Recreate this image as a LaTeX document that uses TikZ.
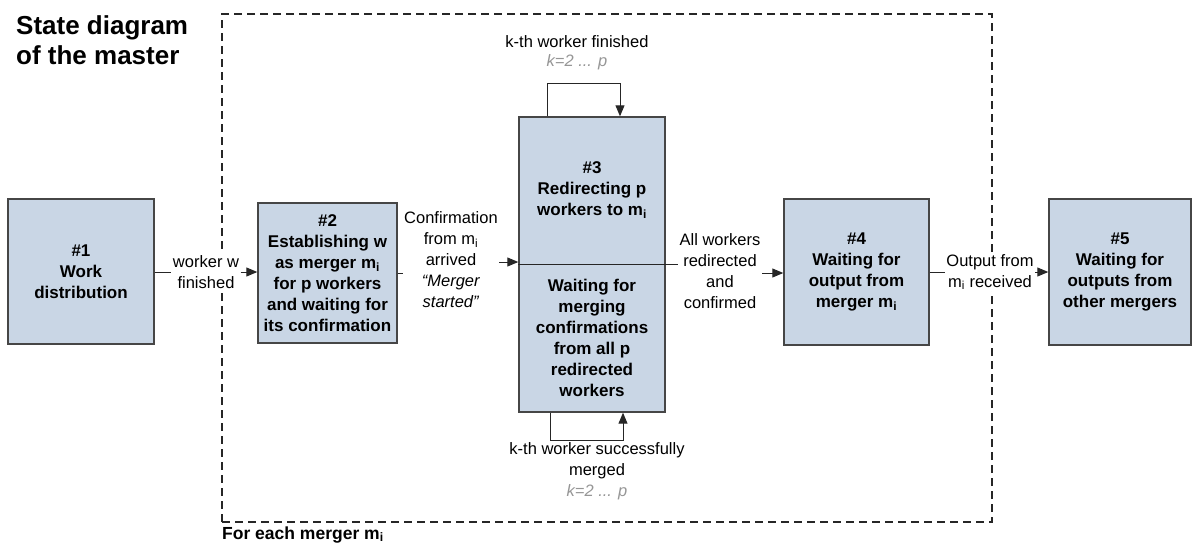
\documentclass[tikz,border=0pt]{standalone}
\usepackage{fontspec}
\setmainfont{Liberation Sans}
\usetikzlibrary{arrows.meta}
\definecolor{boxfill}{RGB}{201,214,229}
\definecolor{boxline}{RGB}{70,70,70}
\definecolor{rangegray}{RGB}{150,150,150}
\newcommand{\msub}{m\textsubscript{i}}

\begin{document}
\begin{tikzpicture}[x=1pt,y=-1pt,
  state/.style={draw=boxline, line width=1.4pt, fill=boxfill, inner sep=0pt},
  boxtext/.style={font=\fontsize{17}{21}\selectfont\bfseries, align=center},
  lbl/.style={font=\fontsize{16.5}{21}\selectfont, align=center, fill=white, inner sep=1.5pt},
  rng/.style={font=\fontsize{16.5}{21}\selectfont\itshape, text=rangegray, inner sep=0pt},
  conn/.style={draw=black!85, line width=1pt, -{Triangle[length=11pt,width=9pt]}},
  plain/.style={draw=black!85, line width=1pt},
  frame/.style={draw=black!85, line width=1.2pt, dash pattern=on 8pt off 5pt},
]
\useasboundingbox (0,0) rectangle (1194,544);

% title and frame caption
\node[anchor=west, inner sep=0pt, align=left,
      font=\fontsize{26}{30}\selectfont\bfseries] (title) at (16,40)
      {State diagram\\of the master};
\node[frame, minimum width=770pt, minimum height=508pt, inner sep=0pt] (loopframe) at (607,268) {};
\node[anchor=base west, inner sep=0pt, font=\fontsize{17.5}{21}\selectfont\bfseries]
      (caption) at (222,539) {For each merger \msub};

% states
\node[state, boxtext, minimum width=146pt, minimum height=145pt] (b1) at (81,271.5)
      {\#1\\Work\\distribution};
\node[state, boxtext, minimum width=139pt, minimum height=140pt] (b2) at (327.5,273)
      {\#2\\Establishing w\\as merger \msub\\for p workers\\and waiting for\\its confirmation};
\node[state, minimum width=146pt, minimum height=295pt] (b3) at (592,264.5) {};
\node[state, boxtext, minimum width=145pt, minimum height=146pt] (b4) at (856.5,272)
      {\#4\\Waiting for\\output from\\merger \msub};
\node[state, boxtext, minimum width=142pt, minimum height=146pt] (b5) at (1120,272)
      {\#5\\Waiting for\\outputs from\\other mergers};

% the two parts of state 3
\draw[plain] (b3.west |- 0,264) coordinate (divw) -- (b3.east |- 0,264) coordinate (dive);
\node[boxtext] (b3top) at (592,190) {\#3\\Redirecting p\\workers to \msub};
\node[boxtext] (b3bot) at (592,338) {Waiting for\\merging\\confirmations\\from all p\\redirected\\workers};

% transition labels
\node[lbl] (l12) at (206,272) {worker w\\finished};
\node[lbl] (l23) at (451,260) {Confirmation\\from \msub\\arrived\\\textit{“Merger}\\\textit{started”}};
\node[lbl] (l34) at (720,271) {All workers\\redirected\\and\\confirmed};
\node[lbl] (l45) at (990,272) {Output from\\\msub{} received};

% transitions
\draw[plain] (b1.east |- l12) -- (l12.west);
\draw[conn] (l12.east) -- (b2.west |- l12);
\draw[plain] (b2.east |- 0,273) -- (l23.west |- 0,273);
\draw[conn] (l23.east |- 0,262) -- (b3.west |- 0,262);
\draw[plain] (dive) -- (l34.west |- dive);
\draw[conn] (l34.east |- 0,273) -- (b4.west |- 0,273);
\draw[plain] (b4.east |- l45) -- (l45.west);
\draw[conn] (l45.east) -- (b5.west |- l45);

% self loops on state 3
\draw[conn] ([xshift=-45pt]b3.north) -- ++(0,-33) -| ([xshift=28pt]b3.north);
\draw[conn] ([xshift=-42pt]b3.south) -- ++(0,28) -| ([xshift=31pt]b3.south);
\node[lbl, fill=none] (ltop) at (577,42) {k-th worker finished};
\node[rng] (rtop) at (577,62) {k=2 ... p};
\node[lbl, fill=none] (lbot) at (597,461) {k-th worker successfully\\merged};
\node[rng] (rbot) at (597,492) {k=2 ... p};
\end{tikzpicture}
\end{document}
